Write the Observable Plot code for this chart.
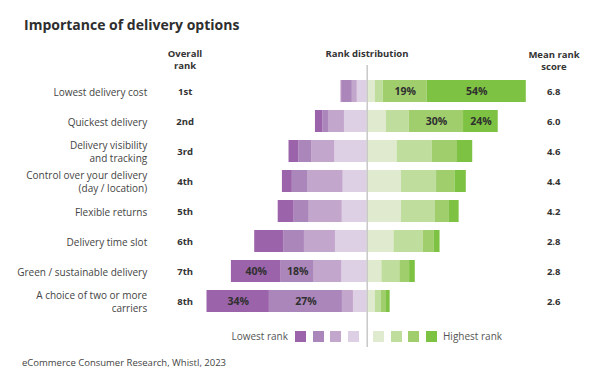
<!DOCTYPE html>
<html>
<head>
<meta charset="utf-8">
<script src="https://cdn.jsdelivr.net/npm/d3@7"></script>
<script src="https://cdn.jsdelivr.net/npm/@observablehq/plot@0.6"></script>
<style>
  html, body { margin: 0; padding: 0; background: #fff; }
  #wrap { position: relative; width: 600px; height: 374px; font-family: "Open Sans", Lato, sans-serif; color: #333; overflow: hidden; }
  .abs { position: absolute; white-space: nowrap; }
  #title { left: 24px; top: 15px; font-size: 14px; font-weight: 700; color: #2e2e2e; }
  .hdr { font-size: 9.5px; font-weight: 700; color: #333; text-align: center; line-height: 12px; transform: translateX(-50%); }
  #chart { position: absolute; left: 0; top: 60px; }
  #legend { left: 0; top: 329px; width: 600px; height: 16px; font-size: 10px; color: #555; }
  .sw { position: absolute; top: 2px; width: 11px; height: 11px; }
  #source { left: 22px; top: 356px; font-size: 9.5px; color: #444; }
</style>
</head>
<body>
<div id="wrap">
  <div id="title" class="abs">Importance of delivery options</div>
  <div class="abs hdr" style="left:185px; top:48px;">Overall<br>rank</div>
  <div class="abs hdr" style="left:367px; top:48px;">Rank distribution</div>
  <div class="abs hdr" style="left:554px; top:49px;">Mean rank<br>score</div>
  <div id="chart"></div>
  <div id="legend" class="abs"></div>
  <div id="source" class="abs">eCommerce Consumer Research, Whistl, 2023</div>
</div>
<script>
// ---- data ----
const categories = [
  "Lowest delivery cost",
  "Quickest delivery",
  "Delivery visibility and tracking",
  "Control over your delivery (day / location)",
  "Flexible returns",
  "Delivery time slot",
  "Green / sustainable delivery",
  "A choice of two or more carriers"
];
const categoryLines = [
  "Lowest delivery cost",
  "Quickest delivery",
  "Delivery visibility\nand tracking",
  "Control over your delivery\n(day / location)",
  "Flexible returns",
  "Delivery time slot",
  "Green / sustainable delivery",
  "A choice of two or more\ncarriers"
];
const overallRank = ["1st", "2nd", "3rd", "4th", "5th", "6th", "7th", "8th"];
const meanScore = [6.8, 6.0, 4.6, 4.4, 4.2, 2.8, 2.8, 2.6];

// share of respondents (%) giving each rank, 1 = lowest rank ... 8 = highest rank
const rank1 = [0.5, 4.0, 5.4, 5.4, 8.7, 15.8, 27.1, 34.0];
const rank2 = [5.6, 3.1, 6.9, 8.6, 8.2, 11.3, 18.0, 39.8];
const rank3 = [2.7, 8.7, 12.7, 19.1, 18.0, 16.9, 15.1, 6.0];
const rank4 = [5.4, 12.4, 17.6, 13.1, 13.6, 17.3, 13.8, 7.5];
const rank5 = [4.5, 10.5, 16.3, 18.7, 18.7, 14.6, 8.0, 4.5];
const rank6 = [4.2, 12.4, 19.1, 19.1, 18.5, 16.0, 9.8, 3.3];
const rank7 = [24.0, 29.6, 13.8, 10.0, 7.6, 6.0, 5.3, 2.7];
const rank8 = [54.0, 18.9, 8.3, 6.2, 5.3, 3.1, 3.1, 2.0];

// printed labels inside bars
const rank1Labels = ["", "", "", "", "", "", "40%", "34%"];
const rank2Labels = ["", "", "", "", "", "", "18%", "27%"];
const rank7Labels = ["19%", "30%", "", "", "", "", "", ""];
const rank8Labels = ["54%", "24%", "", "", "", "", "", ""];

const rankKeys = ["1", "2", "3", "4", "5", "6", "7", "8"];
const rankColors = ["#9b63a9", "#ab86ba", "#c3a6cc", "#ded0e4", "#dfeacf", "#bfdd9d", "#a0ce6d", "#7dc242"];
const legendLow = "Lowest rank";
const legendHigh = "Highest rank";

// ---- build tidy table ----
const shares = {"1": rank1, "2": rank2, "3": rank3, "4": rank4, "5": rank5, "6": rank6, "7": rank7, "8": rank8};
const labels = {"1": rank1Labels, "2": rank2Labels, "7": rank7Labels, "8": rank8Labels};
const stackOrder = ["4", "3", "2", "1", "5", "6", "7", "8"];
const tidy = [];
categories.forEach((c, i) => {
  stackOrder.forEach(k => {
    const v = shares[k][i];
    tidy.push({cat: c, rank: k, value: (+k <= 4 ? -v : v), label: labels[k] ? labels[k][i] : ""});
  });
});
const rows = categories.map((c, i) => ({cat: c, lines: categoryLines[i], rank: overallRank[i], score: meanScore[i]}));

const chart = Plot.plot({
  width: 600,
  height: 287,
  marginLeft: 183.2,
  marginRight: 49.8,
  marginTop: 5,
  marginBottom: 0,
  style: {fontFamily: "'Open Sans', Lato, sans-serif", background: "transparent"},
  x: {domain: [-100, 100], axis: null},
  y: {domain: categories, paddingInner: 0.27, paddingOuter: 0.135, insetTop: 9.35, insetBottom: 30.25, axis: null},
  color: {domain: rankKeys, range: rankColors},
  marks: [
    Plot.barX(tidy, Plot.stackX({x: "value", y: "cat", fill: "rank", order: stackOrder})),
    Plot.text(tidy, Plot.stackX({x: "value", y: "cat", z: "rank", order: stackOrder, text: "label",
      fill: "#2f2f2f", fontWeight: 700, fontSize: 10.5})),
    Plot.text(rows, {y: "cat", text: "lines", frameAnchor: "left", textAnchor: "end", dx: -36.5,
      lineHeight: 1.3, fill: "#444", fontSize: 10}),
    Plot.text(rows, {y: "cat", text: "rank", frameAnchor: "left", textAnchor: "middle", dx: 1.5,
      fill: "#333", fontWeight: 700, fontSize: 9.5}),
    Plot.text(rows, {y: "cat", text: d => d.score.toFixed(1), frameAnchor: "right", textAnchor: "middle", dx: 3,
      fill: "#333", fontWeight: 700, fontSize: 9.5}),
    Plot.ruleX([0], {stroke: "#c8c8c8", strokeWidth: 1.5})
  ]
});
document.getElementById("chart").appendChild(chart);

// ---- legend ----
const legend = document.getElementById("legend");
const lowTxt = document.createElement("div");
lowTxt.className = "abs";
lowTxt.style.cssText = "right:" + (600 - 288) + "px; top:0px;";
lowTxt.textContent = legendLow;
legend.appendChild(lowTxt);
const swX = [295, 312.7, 330.3, 348, 373, 390.7, 408.3, 426];
rankKeys.forEach((k, i) => {
  const s = document.createElement("div");
  s.className = "sw";
  s.style.left = swX[i] + "px";
  s.style.background = rankColors[i];
  legend.appendChild(s);
});
const highTxt = document.createElement("div");
highTxt.className = "abs";
highTxt.style.cssText = "left:443px; top:0px;";
highTxt.textContent = legendHigh;
legend.appendChild(highTxt);
</script>
</body>
</html>
